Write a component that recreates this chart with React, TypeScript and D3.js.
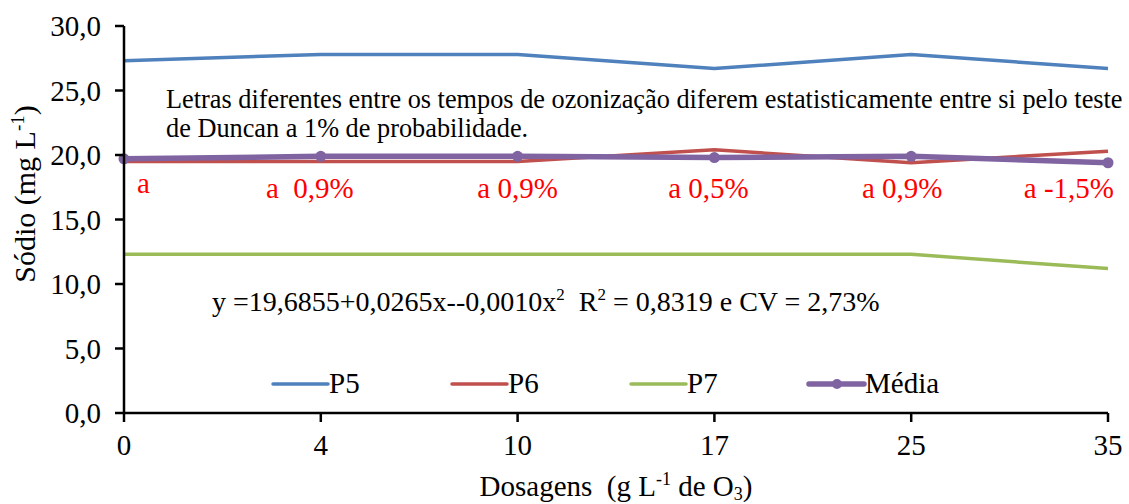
import React from "react";
import * as d3 from "d3";

const categories = ["0", "4", "10", "17", "25", "35"];
const p5 = [27.3, 27.8, 27.8, 26.7, 27.8, 26.7];
const p6 = [19.5, 19.5, 19.5, 20.4, 19.4, 20.3];
const p7 = [12.3, 12.3, 12.3, 12.3, 12.3, 11.2];
const media = [19.7, 19.9, 19.9, 19.8, 19.9, 19.4];
const yTicks = [0, 5, 10, 15, 20, 25, 30];
const pointLabels = ["a", "a  0,9%", "a 0,9%", "a 0,5%", "a 0,9%", "a -1,5%"];
const seriesNames = ["P5", "P6", "P7", "Média"];

const W = 1129;
const H = 504;
const FONT = "'Liberation Serif', 'Times New Roman', serif";

export default function App() {
  const left = 124, right = 1108, top = 26, bottom = 413;
  const x = d3.scalePoint<string>().domain(categories).range([left, right]);
  const y = d3.scaleLinear().domain([0, 30]).range([bottom, top]);
  const line = d3
    .line<number>()
    .x((_, i) => x(categories[i]) as number)
    .y((d) => y(d));

  const series = [
    { name: seriesNames[0], data: p5, color: "#4F81BD", w: 3.5, marker: false },
    { name: seriesNames[1], data: p6, color: "#C0504D", w: 3.5, marker: false },
    { name: seriesNames[2], data: p7, color: "#9BBB59", w: 3.5, marker: false },
    { name: seriesNames[3], data: media, color: "#8064A2", w: 5.5, marker: true },
  ];

  const labelAnchor = ["start", "middle", "middle", "middle", "middle", "end"];
  const labelDx = [13, -11, 0, -6, -9, 6];
  const legendX = [273, 452, 631, 809];

  return (
    <svg
      width={W}
      height={H}
      style={{ position: "absolute", left: 0, top: 0, background: "#fff" }}
      fontFamily={FONT}
    >
      {/* series */}
      {series.map((s) => (
        <g key={s.name}>
          <path d={line(s.data) || ""} fill="none" stroke={s.color} strokeWidth={s.w} strokeLinejoin="round" />
          {s.marker &&
            s.data.map((v, i) => (
              <circle key={i} cx={x(categories[i]) as number} cy={y(v)} r={5.5} fill={s.color} />
            ))}
        </g>
      ))}

      {/* axes */}
      <line x1={left} x2={left} y1={top} y2={bottom} stroke="#000" strokeWidth={2.5} />
      <line x1={left} x2={right} y1={bottom} y2={bottom} stroke="#000" strokeWidth={2.5} />
      {yTicks.map((t) => (
        <g key={t}>
          <line x1={left - 9} x2={left} y1={y(t)} y2={y(t)} stroke="#000" strokeWidth={2.5} />
          <text x={101} y={y(t)} dy="0.35em" textAnchor="end" fontSize={29}>
            {t.toFixed(1).replace(".", ",")}
          </text>
        </g>
      ))}
      {categories.map((c) => (
        <g key={c}>
          <line x1={x(c) as number} x2={x(c) as number} y1={bottom} y2={bottom + 9} stroke="#000" strokeWidth={2.5} />
          <text x={x(c) as number} y={455} textAnchor="middle" fontSize={29}>
            {c}
          </text>
        </g>
      ))}

      {/* axis titles */}
      <text transform={`translate(35,194) rotate(-90)`} textAnchor="middle" fontSize={30}>
        Sódio (mg L<tspan dy={-11} fontSize={19}>-1</tspan>
        <tspan dy={11}>)</tspan>
      </text>
      <text x={616} y={496} textAnchor="middle" fontSize={29}>
        Dosagens{"\u00a0\u00a0"}(g L<tspan dy={-11} fontSize={18}>-1</tspan>
        <tspan dy={11}> de O</tspan>
        <tspan dy={4} fontSize={18}>3</tspan>
        <tspan dy={-4}>)</tspan>
      </text>

      {/* note */}
      <text x={166} y={108} fontSize={26.3}>
        Letras diferentes entre os tempos de ozonização diferem estatisticamente entre si pelo teste
      </text>
      <text x={166} y={137} fontSize={26.3}>
        de Duncan a 1% de probabilidade.
      </text>

      {/* point labels */}
      {pointLabels.map((l, i) => (
        <text
          key={i}
          x={(x(categories[i]) as number) + labelDx[i]}
          y={i === 0 ? 193 : 198}
          textAnchor={labelAnchor[i]}
          fontSize={29}
          fill="#FF0000"
          style={{ whiteSpace: "pre" }}
        >
          {l}
        </text>
      ))}

      {/* equation */}
      <text x={212} y={311} fontSize={28}>
        y =19,6855+0,0265x--0,0010x<tspan dy={-11} fontSize={17}>2</tspan>
        <tspan dy={11}>{"\u00a0\u00a0"}R</tspan>
        <tspan dy={-11} fontSize={17}>2</tspan>
        <tspan dy={11}> = 0,8319 e CV = 2,73%</tspan>
      </text>

      {/* legend */}
      {series.map((s, i) => (
        <g key={s.name}>
          <line x1={legendX[i]} x2={legendX[i] + 55} y1={384} y2={384} stroke={s.color} strokeWidth={s.w} strokeLinecap="round" />
          {s.marker && <circle cx={legendX[i] + 28} cy={384} r={5} fill={s.color} />}
          <text x={legendX[i] + 56} y={393} fontSize={29}>
            {s.name}
          </text>
        </g>
      ))}
    </svg>
  );
}
